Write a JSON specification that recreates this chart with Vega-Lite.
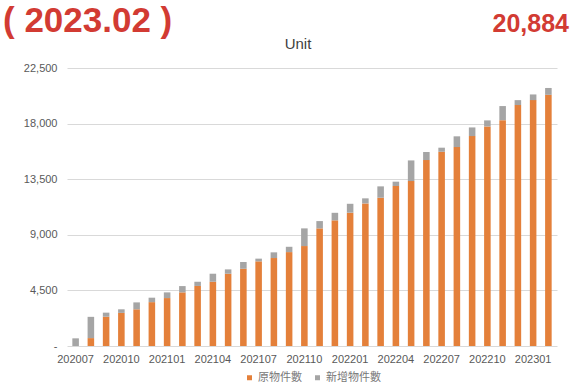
{
  "$schema": "https://vega.github.io/schema/vega-lite/v6.json",
  "padding": {"left": 3, "top": 4, "right": 3, "bottom": 4},
  "background": "white",
  "bounds": "flush",
  "spacing": 36,
  "datasets": {
    "header": [
      {"label": "( 2023.02 )", "pos": 0},
      {"label": "20,884", "pos": 1}
    ],
    "bars": [
      {"month": "202007", "type": "原物件數", "count": 0},
      {"month": "202007", "type": "新增物件數", "count": 620},
      {"month": "202008", "type": "原物件數", "count": 640},
      {"month": "202008", "type": "新增物件數", "count": 1720},
      {"month": "202009", "type": "原物件數", "count": 2370},
      {"month": "202009", "type": "新增物件數", "count": 330},
      {"month": "202010", "type": "原物件數", "count": 2680},
      {"month": "202010", "type": "新增物件數", "count": 290},
      {"month": "202011", "type": "原物件數", "count": 2970},
      {"month": "202011", "type": "新增物件數", "count": 560},
      {"month": "202012", "type": "原物件數", "count": 3550},
      {"month": "202012", "type": "新增物件數", "count": 360},
      {"month": "202101", "type": "原物件數", "count": 3880},
      {"month": "202101", "type": "新增物件數", "count": 460},
      {"month": "202102", "type": "原物件數", "count": 4340},
      {"month": "202102", "type": "新增物件數", "count": 510},
      {"month": "202103", "type": "原物件數", "count": 4860},
      {"month": "202103", "type": "新增物件數", "count": 340},
      {"month": "202104", "type": "原物件數", "count": 5200},
      {"month": "202104", "type": "新增物件數", "count": 650},
      {"month": "202105", "type": "原物件數", "count": 5850},
      {"month": "202105", "type": "新增物件數", "count": 350},
      {"month": "202106", "type": "原物件數", "count": 6250},
      {"month": "202106", "type": "新增物件數", "count": 550},
      {"month": "202107", "type": "原物件數", "count": 6850},
      {"month": "202107", "type": "新增物件數", "count": 220},
      {"month": "202108", "type": "原物件數", "count": 7120},
      {"month": "202108", "type": "新增物件數", "count": 460},
      {"month": "202109", "type": "原物件數", "count": 7600},
      {"month": "202109", "type": "新增物件數", "count": 430},
      {"month": "202110", "type": "原物件數", "count": 8090},
      {"month": "202110", "type": "新增物件數", "count": 1430},
      {"month": "202111", "type": "原物件數", "count": 9520},
      {"month": "202111", "type": "新增物件數", "count": 590},
      {"month": "202112", "type": "原物件數", "count": 10170},
      {"month": "202112", "type": "新增物件數", "count": 610},
      {"month": "202201", "type": "原物件數", "count": 10790},
      {"month": "202201", "type": "新增物件數", "count": 720},
      {"month": "202202", "type": "原物件數", "count": 11540},
      {"month": "202202", "type": "新增物件數", "count": 410},
      {"month": "202203", "type": "原物件數", "count": 12000},
      {"month": "202203", "type": "新增物件數", "count": 920},
      {"month": "202204", "type": "原物件數", "count": 12950},
      {"month": "202204", "type": "新增物件數", "count": 350},
      {"month": "202205", "type": "原物件數", "count": 13350},
      {"month": "202205", "type": "新增物件數", "count": 1670},
      {"month": "202206", "type": "原物件數", "count": 15050},
      {"month": "202206", "type": "新增物件數", "count": 650},
      {"month": "202207", "type": "原物件數", "count": 15720},
      {"month": "202207", "type": "新增物件數", "count": 330},
      {"month": "202208", "type": "原物件數", "count": 16100},
      {"month": "202208", "type": "新增物件數", "count": 870},
      {"month": "202209", "type": "原物件數", "count": 16990},
      {"month": "202209", "type": "新增物件數", "count": 700},
      {"month": "202210", "type": "原物件數", "count": 17770},
      {"month": "202210", "type": "新增物件數", "count": 490},
      {"month": "202211", "type": "原物件數", "count": 18280},
      {"month": "202211", "type": "新增物件數", "count": 1140},
      {"month": "202212", "type": "原物件數", "count": 19500},
      {"month": "202212", "type": "新增物件數", "count": 400},
      {"month": "202301", "type": "原物件數", "count": 19900},
      {"month": "202301", "type": "新增物件數", "count": 460},
      {"month": "202302", "type": "原物件數", "count": 20330},
      {"month": "202302", "type": "新增物件數", "count": 554}
    ]
  },
  "vconcat": [
    {
      "width": 490,
      "height": 28,
      "data": {"name": "header"},
      "layer": [
        {
          "transform": [{"filter": "datum.pos == 0"}],
          "mark": {"type": "text", "align": "left", "baseline": "alphabetic", "font": "Liberation Sans", "fontSize": 35, "fontWeight": "bold", "color": "#D23B33"},
          "encoding": {
            "x": {"field": "pos", "type": "quantitative", "scale": {"domain": [0, 1], "range": [-64, 502]}, "axis": null},
            "y": {"datum": 0, "type": "quantitative", "scale": {"domain": [0, 1]}, "axis": null},
            "text": {"field": "label"}
          }
        },
        {
          "transform": [{"filter": "datum.pos == 1"}],
          "mark": {"type": "text", "align": "right", "baseline": "alphabetic", "font": "Liberation Sans", "fontSize": 25, "fontWeight": "bold", "color": "#D23B33"},
          "encoding": {
            "x": {"field": "pos", "type": "quantitative", "scale": {"domain": [0, 1], "range": [-64, 502]}, "axis": null},
            "y": {"datum": 0, "type": "quantitative", "scale": {"domain": [0, 1]}, "axis": null},
            "text": {"field": "label"}
          }
        }
      ]
    },
    {
      "width": 490,
      "height": 278,
      "data": {"name": "bars"},
      "title": {"text": "Unit", "font": "Liberation Sans", "fontSize": 15, "fontWeight": "normal", "color": "#404040", "offset": 10, "dx": -14},
      "mark": {"type": "bar"},
      "encoding": {
        "x": {
          "field": "month", "type": "ordinal",
          "scale": {"paddingInner": 0.57, "paddingOuter": 0.35},
          "axis": {
            "title": null,
            "values": ["202007", "202010", "202101", "202104", "202107", "202110", "202201", "202204", "202207", "202210", "202301"],
            "labelAngle": 0, "domain": false, "ticks": false, "labelPadding": 7,
            "labelFont": "Liberation Sans", "labelFontSize": 11, "labelColor": "#595959"
          }
        },
        "y": {
          "field": "count", "type": "quantitative", "stack": "zero",
          "scale": {"domain": [0, 22500]},
          "axis": {
            "title": null,
            "values": [0, 4500, 9000, 13500, 18000, 22500],
            "labelExpr": "datum.value == 0 ? '-\u00a0\u00a0' : format(datum.value, ',')",
            "domain": false, "ticks": false, "labelPadding": 10,
            "labelFont": "Liberation Sans", "labelFontSize": 11, "labelColor": "#595959",
            "gridColor": "#d9d9d9"
          }
        },
        "color": {
          "field": "type", "type": "nominal",
          "scale": {"domain": ["原物件數", "新增物件數"], "range": ["#E4803A", "#A5A5A5"]},
          "legend": {
            "orient": "bottom", "title": null, "direction": "horizontal",
            "symbolType": "square", "symbolSize": 25, "symbolStrokeWidth": 0,
            "labelFont": "Noto Sans CJK TC", "labelFontSize": 11, "labelColor": "#777777",
            "labelOffset": 3, "offset": 8, "columnPadding": 10
          }
        },
        "order": {"field": "type", "sort": "ascending"}
      }
    }
  ],
  "config": {
    "view": {"stroke": null},
    "legend": {"layout": {"bottom": {"anchor": "middle"}}}
  }
}
